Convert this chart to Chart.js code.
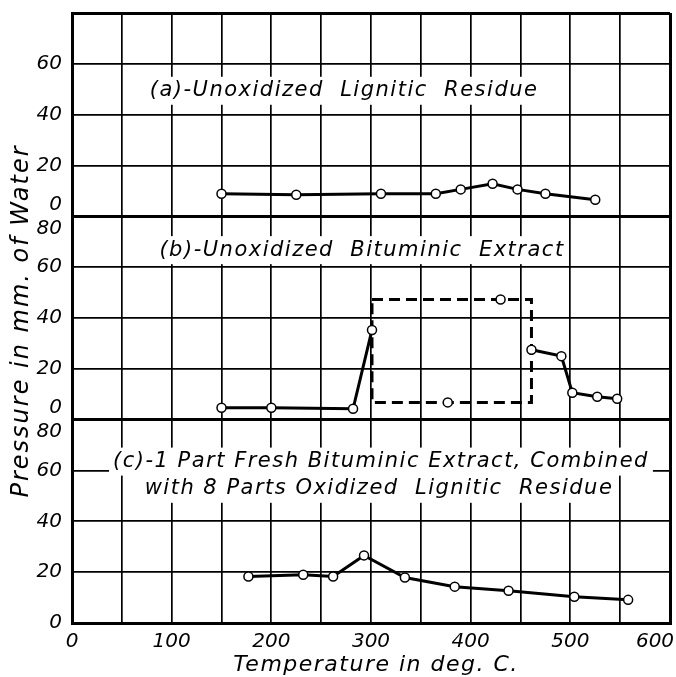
<!DOCTYPE html>
<html lang="en">
<head>
  <meta charset="UTF-8" />
  <title>Pressure vs Temperature</title>
  <script src="https://cdn.jsdelivr.net/npm/chart.js"></script>
  <style>
    body { margin: 0; background: #fff; }
    canvas { display: block; }
  </style>
</head>
<body>
  <canvas id="chart" width="676" height="677"></canvas>
  <script>
    // (a) unoxidized lignitic residue
    const tempA = [150, 225, 310, 365, 390, 422, 447, 475, 525];
    const presA = [8.9, 8.5, 8.9, 8.9, 10.6, 12.8, 10.6, 8.9, 6.5];

    // (b) unoxidized bituminic extract, solid curve (null = break)
    const tempB = [150, 200, 282, 301, 380, 461, 491, 502, 527, 547];
    const presB = [4.7, 4.7, 4.3, 35.3, null, 27.5, 25, 10.6, 9, 8.2];
    // (b) dashed box and its two points
    const dashX = [301, 461, 461, 301, 301];
    const dashY = [47.3, 47.3, 6.8, 6.8, 47.3];
    const dashPtX = [430, 377];
    const dashPtY = [47.3, 6.8];

    // (c) fresh extract + oxidized residue
    const tempC = [177, 232, 262, 293, 334, 384, 438, 504, 558];
    const presC = [18.3, 19, 18.3, 26.6, 17.9, 14.3, 12.7, 10.3, 9.1];

    const xTicks = [0, 100, 200, 300, 400, 500, 600];
    const yTicks = [0, 20, 40, 60, 80];

    const FONT = "'DejaVu Sans', sans-serif";

    const pts = (xs, ys) => xs.map((x, i) => ({ x: x, y: ys[i] }));

    const curve = (xs, ys, axis) => ({
      data: pts(xs, ys),
      yAxisID: axis,
      borderColor: "#000",
      borderWidth: 3,
      tension: 0,
      pointRadius: 4.5,
      pointBorderWidth: 1.5,
      pointBackgroundColor: "#fff",
      pointBorderColor: "#000",
      spanGaps: false,
    });

    // panel captions, placed in data units of each panel
    const notes = [
      { axis: "yA", x: 273, y: 49.4, text: "(a)-Unoxidized  Lignitic  Residue" },
      { axis: "yB", x: 291, y: 66.7, text: "(b)-Unoxidized  Bituminic  Extract" },
      { axis: "yC", x: 310, y: 63.5, text: "(c)-1 Part Fresh Bituminic Extract, Combined" },
      { axis: "yC", x: 308, y: 52.8, text: "with 8 Parts Oxidized  Lignitic  Residue" },
    ];

    const notePlugin = {
      id: "notes",
      afterDatasetsDraw(chart) {
        const c = chart.ctx;
        const xs = chart.scales.x;
        const area = chart.chartArea;
        c.save();
        c.font = "italic 21px " + FONT;
        c.letterSpacing = "1.5px";
        c.textAlign = "center";
        c.textBaseline = "middle";
        notes.forEach((n) => {
          const px = xs.getPixelForValue(n.x);
          const py = chart.scales[n.axis].getPixelForValue(n.y);
          const w = c.measureText(n.text).width;
          c.fillStyle = "#fff";
          c.fillRect(px - w / 2 - 4, py - 14, w + 8, 28);
        });
        notes.forEach((n) => {
          const px = xs.getPixelForValue(n.x);
          const py = chart.scales[n.axis].getPixelForValue(n.y);
          c.fillStyle = "#000";
          c.fillText(n.text, px, py);
        });
        // x title
        c.font = "italic 22px " + FONT;
        c.letterSpacing = "1.5px";
        c.fillText("Temperature in deg. C.", xs.getPixelForValue(305), 665);
        // y title spanning all three panels
        c.translate(22, (area.top + area.bottom) / 2 + 3);
        c.rotate(-Math.PI / 2);
        c.font = "italic 24px " + FONT;
        c.letterSpacing = "2px";
        c.fillText("Pressure in mm. of Water", 0, 0);
        c.restore();
      },
    };

    const fixWidth = (s) => {
      s.width = 72;
      s.paddingTop = 0;
      s.paddingBottom = 0;
    };

    const yScale = (showTop, zeroUp) => ({
      type: "linear",
      position: "left",
      stack: "panels",
      stackWeight: 1,
      min: 0,
      max: 80,
      afterBuildTicks: (s) => { s.ticks = yTicks.map((v) => ({ value: v })); },
      afterFit: fixWidth,
      border: { display: true, width: 3, color: "#000" },
      grid: {
        color: "#000",
        drawTicks: false,
        lineWidth: (ctx) => (ctx.tick && (ctx.tick.value === 0 || ctx.tick.value === 80) ? 3 : 1.7),
      },
      ticks: {
        color: "#000",
        padding: 10,
        autoSkip: false,
        font: { family: FONT, size: 20, style: "italic" },
        callback: (v) => {
          if (v === 80) return showTop ? ["", "80"] : "";
          if (v === 0) return zeroUp ? ["0", ""] : "0";
          return String(v);
        },
      },
    });

    new Chart(document.getElementById("chart"), {
      type: "line",
      data: {
        datasets: [
          curve(tempA, presA, "yA"),
          curve(tempB, presB, "yB"),
          Object.assign(curve(dashPtX, dashPtY, "yB"), { showLine: false }),
          Object.assign(curve(dashX, dashY, "yB"), { borderDash: [11, 6], pointRadius: 0 }),
          curve(tempC, presC, "yC"),
        ],
      },
      options: {
        animation: false,
        responsive: false,
        events: [],
        layout: { padding: { top: 13, right: 4, left: 0, bottom: 0 } },
        plugins: { legend: { display: false }, tooltip: { enabled: false } },
        scales: {
          x: {
            type: "linear",
            min: 0,
            max: 600,
            afterBuildTicks: (s) => {
              const t = [];
              for (let v = 0; v <= 600; v += 50) t.push({ value: v });
              s.ticks = t;
            },
            afterFit: (s) => {
              s.height = 54;
              s.paddingLeft = 0;
              s.paddingRight = 0;
            },
            border: { display: true, width: 3, color: "#000" },
            grid: {
              color: "#000",
              drawTicks: false,
              lineWidth: (ctx) => (ctx.tick && (ctx.tick.value === 0 || ctx.tick.value === 600) ? 3 : 1.7),
            },
            ticks: {
              color: "#000",
              padding: 7,
              maxRotation: 0,
              autoSkip: false,
              font: { family: FONT, size: 20, style: "italic" },
              callback: (v) => {
                if (!xTicks.includes(v)) return "";
                return v === 600 ? "600\u2003\u2002" : String(v);
              },
            },
          },
          // stacked panels: first listed sits at the bottom
          yC: yScale(true, false),
          yB: yScale(true, true),
          yA: yScale(false, true),
        },
      },
      plugins: [notePlugin],
    });
  </script>
</body>
</html>
